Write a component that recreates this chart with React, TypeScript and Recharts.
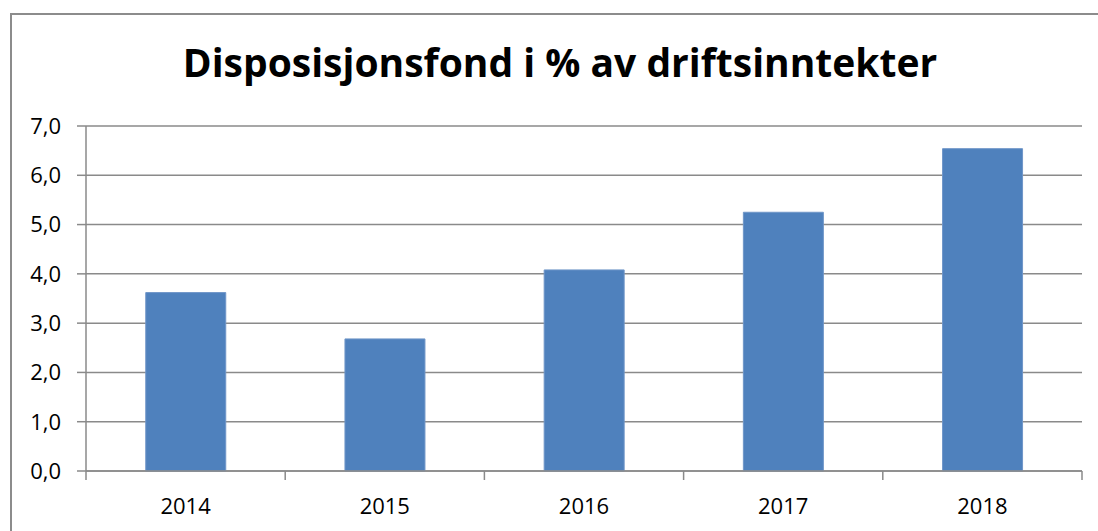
import React from "react";
import { BarChart, Bar, XAxis, YAxis, CartesianGrid } from "recharts";

const years = ["2014", "2015", "2016", "2017", "2018"];
const values = [3.62, 2.68, 4.08, 5.25, 6.54];
const yTicks = [0, 1, 2, 3, 4, 5, 6, 7];
const title = "Disposisjonsfond i % av driftsinntekter";

const data = years.map((y, i) => ({ year: y, value: values[i] }));

const FONT = "'Open Sans', 'Liberation Sans', sans-serif";
const GRAY = "#8a8a8a";

const W = 1098;
const H = 531;
const PLOT_LEFT = 86;
const PLOT_RIGHT = 1082;
const BAND = (PLOT_RIGHT - PLOT_LEFT) / years.length;

const XTick = (props: any) => {
  const { x, y, payload, index } = props;
  const left = x - BAND / 2;
  const right = x + BAND / 2;
  return (
    <g>
      <line x1={left} x2={left} y1={y - 8} y2={y + 1} stroke={GRAY} strokeWidth={1.5} />
      {index === years.length - 1 && (
        <line x1={right} x2={right} y1={y - 8} y2={y + 1} stroke={GRAY} strokeWidth={1.5} />
      )}
      <text x={x} y={y + 35} textAnchor="middle" fontFamily={FONT} fontSize={22} fill="#000">
        {payload.value}
      </text>
    </g>
  );
};

const fmt = (v: number) => v.toFixed(1).replace(".", ",");

export default function App() {
  return (
    <div
      style={{
        position: "fixed",
        left: 0,
        top: 0,
        width: W,
        height: H,
        overflow: "hidden",
        background: "#fff",
      }}
    >
      <div
        style={{
          position: "absolute",
          left: 10,
          top: 13,
          width: 1200,
          height: 600,
          borderLeft: "2px solid #8c8c8c",
          borderTop: "2px solid #8c8c8c",
        }}
      />
      <svg style={{ position: "absolute", left: 0, top: 0 }} width={W} height={100}>
        <text
          x={560}
          y={77}
          textAnchor="middle"
          fontFamily={FONT}
          fontWeight={700}
          fontSize={39}
          fill="#000"
        >
          {title}
        </text>
      </svg>
      <div style={{ position: "absolute", left: 0, top: 0 }}>
        <BarChart
          width={W}
          height={H}
          data={data}
          margin={{ top: 126, right: W - PLOT_RIGHT, bottom: 20, left: 0 }}
          barCategoryGap="30%"
        >
          <CartesianGrid vertical={false} stroke={GRAY} strokeWidth={1.5} />
          <XAxis
            dataKey="year"
            height={40}
            axisLine={{ stroke: GRAY, strokeWidth: 1.5 }}
            tickLine={false}
            tick={<XTick />}
            interval={0}
          />
          <YAxis
            width={PLOT_LEFT}
            domain={[0, 7]}
            ticks={yTicks}
            interval={0}
            tickFormatter={fmt}
            axisLine={{ stroke: GRAY, strokeWidth: 1.5 }}
            tickLine={{ stroke: GRAY, strokeWidth: 1.5 }}
            tickSize={9}
            tickMargin={16}
            tick={{ fontFamily: FONT, fontSize: 22, fill: "#000" }}
          />
          <Bar dataKey="value" fill="#4F81BD" stroke="#7096c8" strokeWidth={1} isAnimationActive={false} />
        </BarChart>
      </div>
    </div>
  );
}
